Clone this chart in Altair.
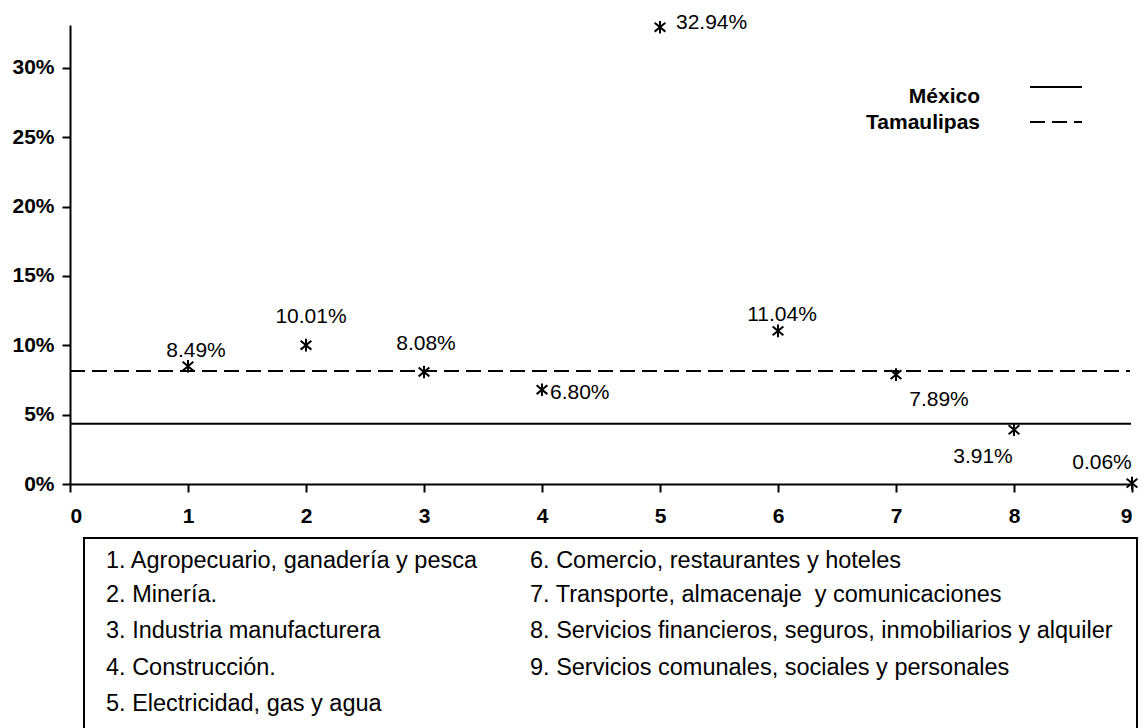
import altair as alt
import pandas as pd

# ---- data ----
sectors = [1, 2, 3, 4, 5, 6, 7, 8, 9]
tamaulipas_share = [0.0849, 0.1001, 0.0808, 0.0680, 0.3294, 0.1104, 0.0789, 0.0391, 0.0006]
mexico_level = 0.0435
tamaulipas_level = 0.0815
series_names = ["México", "Tamaulipas"]
x_ticks = [0, 1, 2, 3, 4, 5, 6, 7, 8, 9]
y_ticks = [0, 0.05, 0.10, 0.15, 0.20, 0.25, 0.30]
sector_names = [
    "1. Agropecuario, ganadería y pesca",
    "2. Minería.",
    "3. Industria manufacturera",
    "4. Construcción.",
    "5. Electricidad, gas y agua",
    "6. Comercio, restaurantes y hoteles",
    "7. Transporte, almacenaje\u00a0 y comunicaciones",
    "8. Servicios financieros, seguros, inmobiliarios y alquiler",
    "9. Servicios comunales, sociales y personales",
]

# ---- style / layout ----
W, H = 1062, 459
FONT = "Liberation Sans"
# label placement per point: (dx, dy, align)
label_place = [(8, -15, "center"), (5, -28, "center"), (2, -28, "center"),
               (8, 3, "left"), (16, -4, "left"), (4, -16, "center"),
               (43, 25, "center"), (-31, 27, "center"), (-30, -20, "center")]
row_y = [536, 570, 606, 643, 679]
col_x = [36, 460]

df = pd.DataFrame({"sector": sectors, "share": tamaulipas_share, "idx": range(len(sectors))})

xs = alt.Scale(domain=[0, 9], nice=False, zero=False)
ys = alt.Scale(domain=[0, 0.331], nice=False)

star = "M-0.85,-0.7L0.85,0.7M-0.85,0.7L0.85,-0.7M0,-1L0,1"

points = alt.Chart(df).mark_point(
    shape=star, filled=False, stroke="black", strokeWidth=2, size=160, opacity=1
).encode(
    x=alt.X("sector:Q", scale=xs,
            axis=alt.Axis(values=x_ticks, format="d", title=None, labelPadding=13)),
    y=alt.Y("share:Q", scale=ys,
            axis=alt.Axis(values=y_ticks, format=".0%", title=None, labelPadding=8)),
)

layers = []

levels = pd.DataFrame({"serie": series_names, "level": [mexico_level, tamaulipas_level]})
mex_line = alt.Chart(levels).transform_filter(alt.datum.serie == "México").mark_rule(
    color="black", strokeWidth=2
).encode(x=alt.value(0), x2=alt.value(W - 1), y=alt.Y("level:Q", scale=ys))
tam_line = alt.Chart(levels).transform_filter(alt.datum.serie == "Tamaulipas").mark_rule(
    color="black", strokeWidth=2, strokeDash=[15, 7]
).encode(x=alt.value(0), x2=alt.value(W - 2), y=alt.Y("level:Q", scale=ys))
layers += [mex_line, tam_line, points]

for i, (dx, dy, al) in enumerate(label_place):
    layers.append(
        alt.Chart(df).transform_filter(alt.datum.idx == i).mark_text(
            dx=dx, dy=dy, align=al, baseline="middle", font=FONT, fontSize=21, color="black"
        ).encode(
            x=alt.X("sector:Q", scale=xs),
            y=alt.Y("share:Q", scale=ys),
            text=alt.Text("share:Q", format=".2%"),
        )
    )

# top-right legend
leg_y_text = [72, 98]
leg_y_line = [62, 97]
for j, name in enumerate(series_names):
    layers.append(
        alt.Chart(levels).transform_filter(alt.datum.serie == name).mark_text(
            align="right", baseline="middle", font=FONT, fontSize=21, fontWeight="bold", color="black"
        ).encode(x=alt.value(910), y=alt.value(leg_y_text[j]), text="serie:N")
    )
    rule_kw = dict(color="black", strokeWidth=2)
    if j == 1:
        rule_kw["strokeDash"] = [15, 7]
    layers.append(
        alt.Chart(levels).transform_filter(alt.datum.serie == name).mark_rule(**rule_kw).encode(
            x=alt.value(960), x2=alt.value(1012), y=alt.value(leg_y_line[j])
        )
    )

# bottom box with sector names
box = alt.Chart(pd.DataFrame({"k": [0]})).mark_rect(
    fill=None, stroke="black", strokeWidth=2
).encode(x=alt.value(14), x2=alt.value(1067), y=alt.value(513), y2=alt.value(712))
layers.append(box)

names_df = pd.DataFrame({"name": sector_names, "idx": range(len(sector_names))})
for i, nm in enumerate(sector_names):
    col = 0 if i < 5 else 1
    row = i if i < 5 else i - 5
    layers.append(
        alt.Chart(names_df).transform_filter(alt.datum.idx == i).mark_text(
            align="left", baseline="middle", font=FONT, fontSize=23.5, color="black"
        ).encode(x=alt.value(col_x[col]), y=alt.value(row_y[row]), text="name:N")
    )

chart = alt.layer(*layers).properties(
    width=W, height=H,
    padding={"left": 62, "top": 17, "right": 6, "bottom": 244},
    autosize=alt.AutoSizeParams(type="none"),
).configure_view(stroke=None).configure_axis(
    grid=False, domainColor="black", domainWidth=2, tickColor="black", tickWidth=2,
    tickSize=8, labelFont=FONT, labelFontSize=21, labelFontWeight="bold", labelColor="black",
)

chart.save("out.html", embed_options={"renderer": "svg", "actions": False})
